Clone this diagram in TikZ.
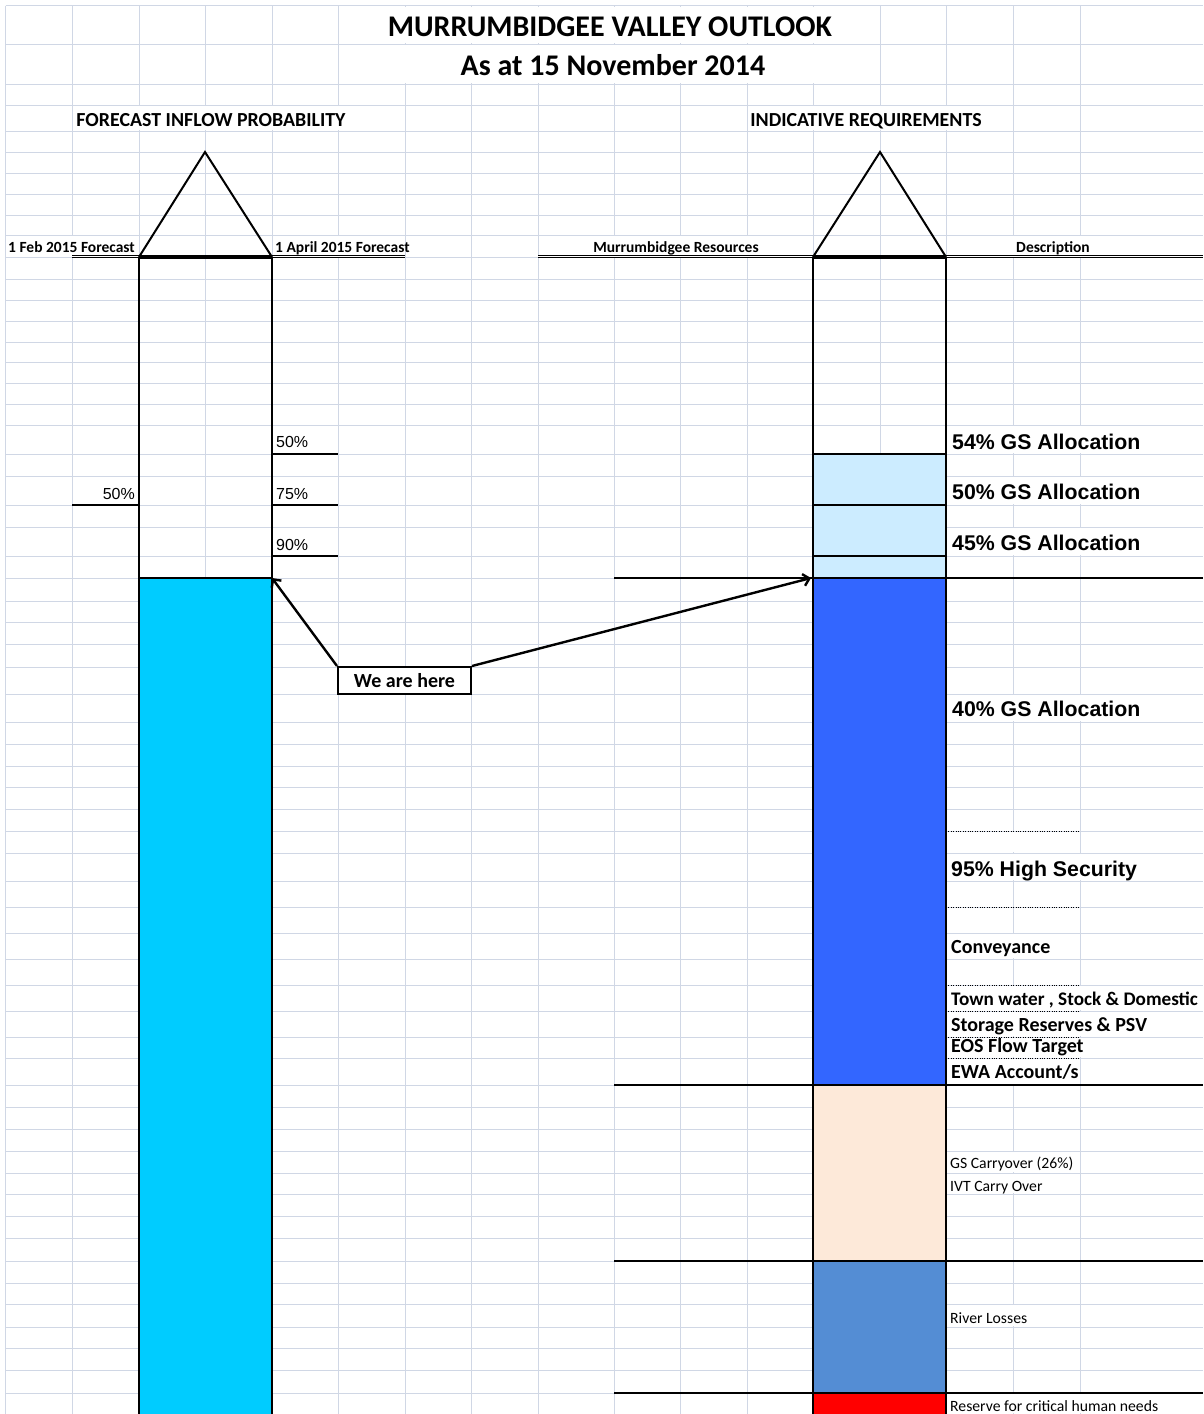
\documentclass[tikz,border=0pt]{standalone}
\usepackage{fontspec}
\setmainfont{Carlito}
\newfontfamily\arialfont{Liberation Sans}
\usetikzlibrary{arrows.meta, positioning}

\definecolor{gridblue}{RGB}{208,215,229}
\definecolor{inflowcyan}{RGB}{0,204,255}
\definecolor{paleblue}{RGB}{204,236,255}
\definecolor{hsblue}{RGB}{51,102,255}
\definecolor{peach}{RGB}{253,233,217}
\definecolor{lossblue}{RGB}{84,141,212}

\tikzset{
    gridline/.style={gridblue, line width=1pt},
    gridgap/.style={white, line width=2.5pt, shorten <=1.2pt, shorten >=1.2pt},
    tube/.style={black, line width=2pt},
    tubebase/.style={black, line width=3.2pt},
    rule/.style={black, line width=2pt},
    dotrule/.style={black, line width=0.9pt, dash pattern=on 1pt off 1.4pt},
    dblrule/.style={black, line width=0.8pt, double, double distance=1.4pt},
    pointer/.style={black, line width=2.4pt, -{Straight Barb[length=6pt, width=12pt]}},
    title/.style={font=\bfseries\fontsize{30}{36}\selectfont, inner sep=0pt, anchor=base},
    heading/.style={font=\bfseries\fontsize{19.9}{24}\selectfont, inner sep=0pt, anchor=base},
    colhead/.style={font=\bfseries\fontsize{15.5}{18}\selectfont, inner sep=0pt, anchor=base},
    pct/.style={font=\arialfont\fontsize{16}{19}\selectfont, inner sep=0pt, anchor=base west},
    alloc/.style={font=\arialfont\bfseries\fontsize{21.3}{25}\selectfont, inner sep=0pt, anchor=base west},
    req/.style={font=\bfseries\fontsize{20}{24}\selectfont, inner sep=0pt, anchor=base west},
    note/.style={font=\fontsize{15.7}{18}\selectfont, inner sep=0pt, anchor=base west},
    herebox/.style={draw, line width=2pt, fill=white, minimum width=133pt, minimum height=27pt,
        inner sep=0pt, font=\bfseries\fontsize{20}{24}\selectfont}
}

\begin{document}
\begin{tikzpicture}[x=1pt, y=-1pt]

    % Sheet and grid
    \path[use as bounding box, fill=white] (0,0) rectangle (1203,1414);
    \clip (0,0) rectangle (1203,1414);
    \foreach \gx in {5.7,72,139,205,272,338,405,471,538,614,680,747,813,880,946,1013,1080}
        \draw[gridline] (\gx,5.7) -- (\gx,1414);
    \foreach \gy in {5.7,44,84,105,131,152,173,194,215,235,257,279,300,321,342,362,383,404,425,454,
        476,505,527,556,578,601,622,644,667,694,722,744,766,787,809,831,853,881,907,933,959,985,
        1011,1037,1058,1085,1107,1129,1151,1173,1194,1216,1238,1261,1283,1304,1327,1348,1370,1393}
        \draw[gridline] (5.7,\gy) -- (1203,\gy);
    % cells covered by text
    \foreach \ya/\yb/\xs in {5.7/44/{405,471,538,614,680,747,813}, 44/84/{405,471,538,614,680,747,813},
        105/131/{139,205,272,338,813,880,946}, 235/257/{72,338,614,680,747,1013,1080},
        425/454/{1013,1080}, 476/505/{1013,1080}, 527/556/{1013,1080}, 694/722/{1013,1080},
        831/853/{1013}, 853/881/{1013,1080}, 933/959/{1013}, 985/1011/{1013,1080},
        1011/1037/{1013,1080}, 1037/1058/{1013,1080}, 1058/1085/{1013}, 1151/1173/{1013},
        1173/1194/{1013}, 1304/1327/{1013}, 1393/1414/{1013,1080}} {
        \foreach \hx in \xs
            \draw[gridgap] (\hx,\ya) -- (\hx,\yb);
    }

    % Titles
    \node[title] (title) at (610,36) {MURRUMBIDGEE VALLEY OUTLOOK};
    \node[title] (subtitle) at (613,75) {As at 15 November 2014};
    \node[heading] (inflowhead) at (211,126) {FORECAST INFLOW PROBABILITY};
    \node[heading] (reqhead) at (866,126) {INDICATIVE REQUIREMENTS};

    % Column headings
    \node[colhead, anchor=base west] (febhead) at (8,252) {1 Feb 2015 Forecast};
    \node[colhead, anchor=base west] (aprilhead) at (275,252) {1 April 2015 Forecast};
    \node[colhead] (reshead) at (676,252) {Murrumbidgee Resources};
    \node[colhead] (deschead) at (1053,252) {Description};
    \draw[dblrule] (72,256.3) -- (139,256.3);
    \draw[dblrule] (272,256.3) -- (405,256.3);
    \draw[dblrule] (538,256.3) -- (813,256.3);
    \draw[dblrule] (946,256.3) -- (1203,256.3);

    % Forecast inflow gauge
    \fill[inflowcyan] (139,578) rectangle (272,1420);
    \draw[tube] (139,1420) -- (139,257) (272,257) -- (272,1420);
    \draw[tube] (139,578) -- (272,578);
    \draw[tube] (139,257) -- (205,152) -- (272,257);
    \draw[tubebase] (139,257) -- (272,257);

    % Probability marks
    \foreach \ly in {454,505,556}
        \draw[rule] (272,\ly) -- (338,\ly);
    \draw[rule] (72,505) -- (139,505);
    \node[pct] (pfifty) at (276,447) {50\%};
    \node[pct] (pseventyfive) at (276,499) {75\%};
    \node[pct] (pninety) at (276,550) {90\%};
    \node[pct, anchor=base east] (febfifty) at (135,499) {50\%};

    % Requirements gauge
    \fill[paleblue] (813,454) rectangle (946,578);
    \fill[hsblue] (813,578) rectangle (946,1085);
    \fill[peach] (813,1085) rectangle (946,1261);
    \fill[lossblue] (813,1261) rectangle (946,1393);
    \fill[red] (813,1393) rectangle (946,1420);
    \draw[tube] (813,1420) -- (813,257) (946,257) -- (946,1420);
    \draw[tube] (813,257) -- (880,152) -- (946,257);
    \draw[tubebase] (813,257) -- (946,257);
    \foreach \ly in {454,505,556}
        \draw[rule] (813,\ly) -- (946,\ly);
    \foreach \ly in {578,1085,1261,1393}
        \draw[rule] (614,\ly) -- (1203,\ly);
    \foreach \ly in {831,907,985,1011,1037,1058}
        \draw[dotrule] (946,\ly) -- (1080,\ly);

    % Descriptions
    \node[alloc] (gsfiftyfour) at (952,449) {54\% GS Allocation};
    \node[alloc] (gsfifty) at (952,499) {50\% GS Allocation};
    \node[alloc] (gsfortyfive) at (952,550) {45\% GS Allocation};
    \node[alloc] (gsforty) at (952,716) {40\% GS Allocation};
    \node[alloc] (highsec) at (951,876) {95\% High Security};
    \node[req] (convey) at (951,953) {Conveyance};
    \node[req, font=\bfseries\fontsize{19.2}{23}\selectfont] (townwater) at (951,1005) {Town water , Stock \& Domestic};
    \node[req] (storage) at (951,1031) {Storage Reserves \& PSV};
    \node[req] (eos) at (951,1052) {EOS Flow Target};
    \node[req] (ewa) at (951,1078) {EWA Account/s};
    \node[note] (carryover) at (950,1168) {GS Carryover (26\%)};
    \node[note] (ivt) at (950,1191) {IVT Carry Over};
    \node[note] (losses) at (950,1323) {River Losses};
    \node[note] (reserve) at (950,1411) {Reserve for critical human needs};

    % We are here
    \node[herebox] (here) at (404.5,680.5) {We are here};
    \coordinate (inflowtop) at (272,578);
    \coordinate (restop) at (811,578);
    \draw[pointer] (here.north west) -- (inflowtop);
    \draw[pointer] (here.north east) -- (restop);

\end{tikzpicture}
\end{document}
